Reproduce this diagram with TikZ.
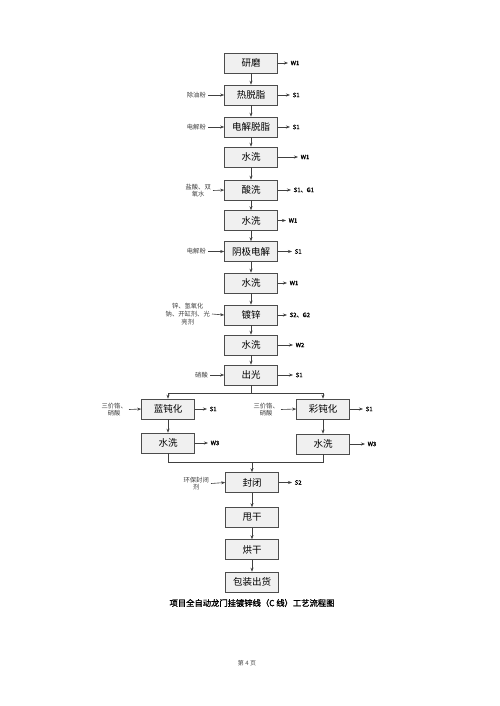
\documentclass[tikz,border=0pt]{standalone}
\usepackage{fontspec}
\setmainfont{Noto Sans CJK SC}[AutoFakeBold=1.5]
\usetikzlibrary{arrows.meta}
\begin{document}
\begin{tikzpicture}[x=1pt,y=-1pt,
  box/.style={draw=black!70, fill=gray!12, line width=0.6pt, minimum width=53pt, minimum height=20pt, inner sep=0pt, font=\fontsize{9.5}{10}\selectfont},
  inlab/.style={anchor=east, inner sep=2pt, font=\fontsize{6.3}{7.6}\selectfont, text=black!75, align=center},
  outlab/.style={anchor=west, inner sep=2.5pt, font=\bfseries\fontsize{6}{7}\selectfont},
  arr/.style={-{Stealth[length=4pt,width=3pt]}, line width=0.6pt, draw=black!75},
  ln/.style={line width=0.6pt, draw=black!75}]
\useasboundingbox (0,0) rectangle (500,706);
\fill[white] (0,0) rectangle (500,706);
% main column
\node[box] (b1) at (251,63) {研磨};
\node[box] (b2) at (251,95) {热脱脂};
\node[box] (b3) at (251,127) {电解脱脂};
\node[box] (b4) at (251,157) {水洗};
\node[box] (b5) at (251,190) {酸洗};
\node[box] (b6) at (251,220.5) {水洗};
\node[box] (b7) at (251,251.5) {阴极电解};
\node[box] (b8) at (251,283) {水洗};
\node[box] (b9) at (251,315) {镀锌};
\node[box] (b10) at (251,345) {水洗};
\node[box] (b11) at (251,375) {出光};
\node[box] (l1) at (168,409) {蓝钝化};
\node[box] (l2) at (168,443) {水洗};
\node[box] (r1) at (323,409) {彩钝化};
\node[box] (r2) at (323,444) {水洗};
\node[box] (b12) at (252,482.5) {封闭};
\node[box] (b13) at (252,517.5) {甩干};
\node[box] (b14) at (252,549.5) {烘干};
\node[box] (b15) at (252,582) {包装出货};
% vertical flow
\foreach \a/\b in {b1/b2,b2/b3,b3/b4,b4/b5,b5/b6,b6/b7,b7/b8,b8/b9,b9/b10,b10/b11,l1/l2,b12/b13,b13/b14,b14/b15}
  \draw[arr] (\a.south) -- (\b.north);
% split
\coordinate (sp) at (251,393);
\coordinate (spl) at (168,393);
\coordinate (spr) at (323,393);
\draw[ln] (b11.south) -- (sp);
\draw[ln] (spl) -- (spr);
\draw[arr] (spl) -- (l1.north);
\draw[arr] (spr) -- (r1.north);
\draw[arr] (r1.south) -- (r2.north);
% merge
\coordinate (ml) at (168,462);
\coordinate (mr) at (323,462);
\coordinate (mc) at (252,462);
\draw[ln] (l2.south) -- (ml) -- (mr) -- (r2.south);
\draw[arr] (mc) -- (b12.north);
% inputs
\node[inlab] (i2) at (208,95) {除油粉};
\node[inlab] (i3) at (208,127) {电解粉};
\node[inlab] (i5) at (213,190.5) {盐酸、双\\氧水};
\node[inlab] (i7) at (208,251.5) {电解粉};
\node[inlab] (i9) at (212,314) {锌、氢氧化\\钠、开缸剂、光\\亮剂};
\node[inlab] (i11) at (210,375) {硝酸};
\node[inlab] (il1) at (129,409.5) {三价铬、\\硝酸};
\node[inlab] (ir1) at (281,409.5) {三价铬、\\硝酸};
\node[inlab] (i12) at (211,483.5) {环保封闭\\剂};
\foreach \a/\b in {i2/b2,i3/b3,i5/b5,i7/b7,i9/b9,i11/b11,il1/l1,ir1/r1,i12/b12}
  \draw[arr] (\a.east) -- (\b.west);
% outputs
\node[outlab] (o1) at (288,63) {W1};
\node[outlab] (o2) at (290,95) {S1};
\node[outlab] (o3) at (290,127) {S1};
\node[outlab] (o4) at (298,157) {W1};
\node[outlab] (o5) at (291,190) {S1、G1};
\node[outlab] (o6) at (286,220.5) {W1};
\node[outlab] (o7) at (292,251.5) {S1};
\node[outlab] (o8) at (287,283) {W1};
\node[outlab] (o9) at (287,315) {S2、G2};
\node[outlab] (o10) at (293,345) {W2};
\node[outlab] (o11) at (293,375) {S1};
\node[outlab] (ol1) at (207,409) {S1};
\node[outlab] (ol2) at (208,443) {W3};
\node[outlab] (or1) at (363,409) {S1};
\node[outlab] (or2) at (365,444) {W3};
\node[outlab] (o12) at (292,482.5) {S2};
\foreach \a/\b in {b1/o1,b2/o2,b3/o3,b4/o4,b5/o5,b6/o6,b7/o7,b8/o8,b9/o9,b10/o10,b11/o11,l1/ol1,l2/ol2,r1/or1,r2/or2,b12/o12}
  \draw[arr] (\a.east) -- (\b.west);
% caption
\node[font=\bfseries\fontsize{8.3}{9}\selectfont] (cap) at (252,603) {项目全自动龙门挂镀锌线（C 线）工艺流程图};
\node[font=\fontsize{6}{7}\selectfont, text=black!70] (pg) at (247,663) {第 4 页};
\end{tikzpicture}
\end{document}
